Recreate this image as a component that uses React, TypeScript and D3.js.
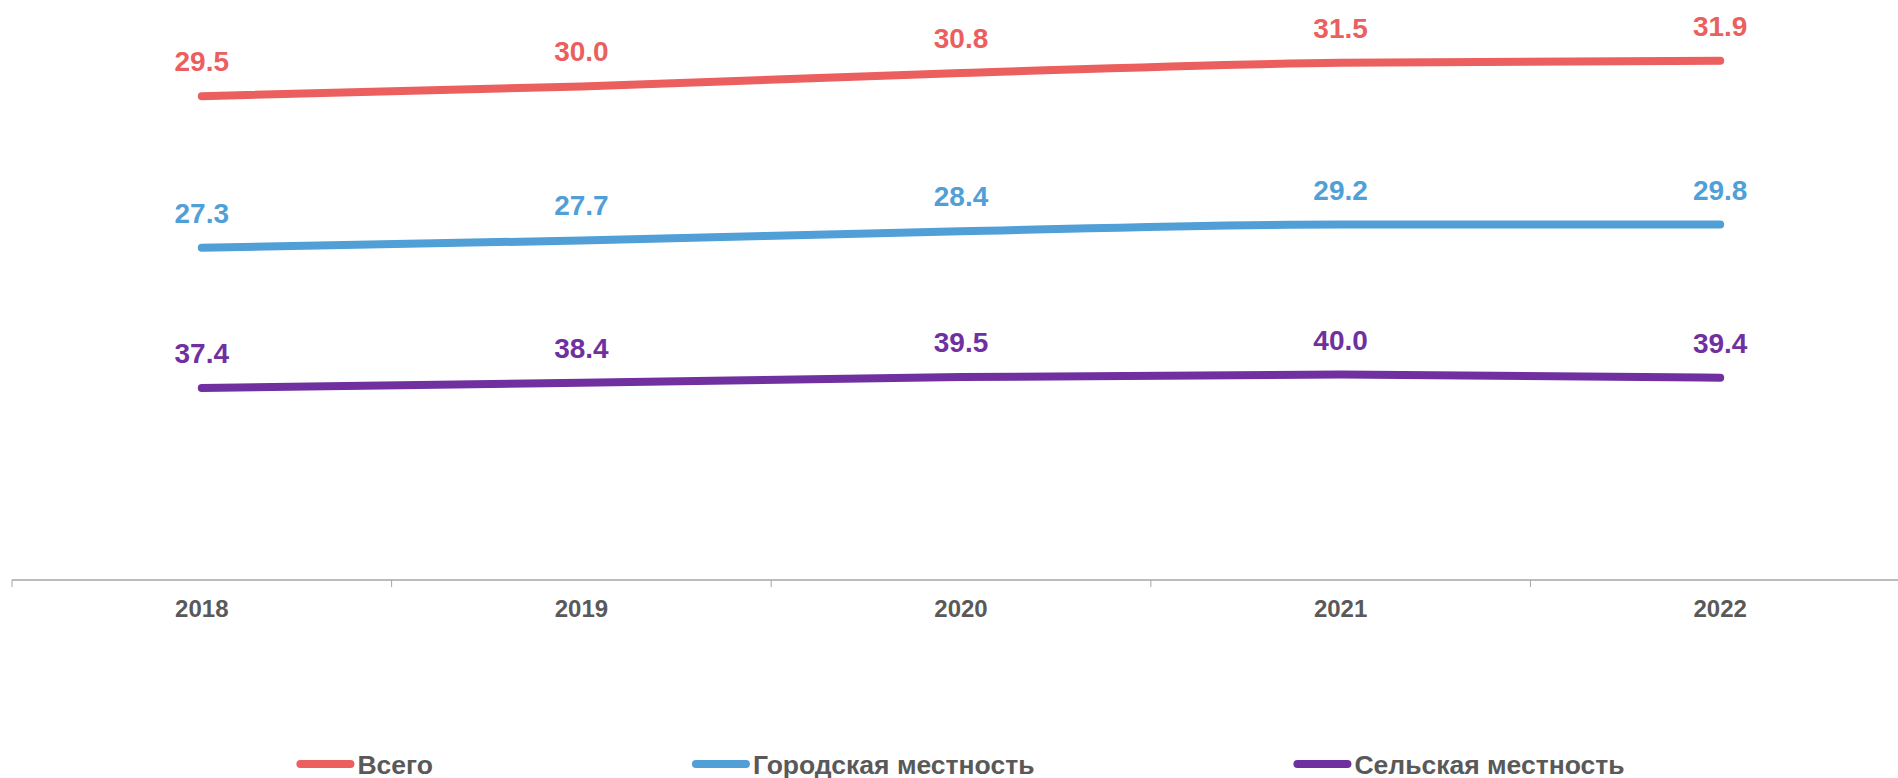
import React, { useEffect, useRef } from "react";
import * as d3 from "d3";

const years = ["2018", "2019", "2020", "2021", "2022"];
const totalValues = [29.5, 30.0, 30.8, 31.5, 31.9];
const urbanValues = [27.3, 27.7, 28.4, 29.2, 29.8];
const ruralValues = [37.4, 38.4, 39.5, 40.0, 39.4];
const seriesNames = ["Всего", "Городская местность", "Сельская местность"];
const seriesColors = ["#EB5F5F", "#509FD7", "#7030A0"];

const W = 1898;
const H = 778;
const FONT = "'Liberation Sans', Arial, sans-serif";

export default function App() {
  const ref = useRef<SVGSVGElement | null>(null);

  useEffect(() => {
    const svg = d3.select(ref.current);
    svg.selectAll("*").remove();

    const x = d3.scaleBand<string>().domain(years).range([12, 1910]);
    const y = d3.scaleLinear().domain([0, 110]).range([580, 15]);

    // stacked: rural bottom, urban middle, total top
    const order = [ruralValues, urbanValues, totalValues];
    const orderColors = [seriesColors[2], seriesColors[1], seriesColors[0]];
    const cum = years.map(() => 0);
    const stacked = order.map((vals) =>
      vals.map((v, i) => {
        cum[i] += v;
        return { year: years[i], value: v, top: cum[i] };
      })
    );

    // axis
    const g = svg.append("g");
    g.append("line")
      .attr("x1", 12)
      .attr("x2", W)
      .attr("y1", 580)
      .attr("y2", 580)
      .attr("stroke", "#A6A6A6")
      .attr("stroke-width", 1.5);
    const bounds = years.map((yr) => x(yr) as number).concat([x.range()[1]]);
    g.selectAll("line.tick")
      .data(bounds)
      .enter()
      .append("line")
      .attr("class", "tick")
      .attr("x1", (d) => d)
      .attr("x2", (d) => d)
      .attr("y1", 580)
      .attr("y2", 587)
      .attr("stroke", "#A6A6A6")
      .attr("stroke-width", 1);
    g.selectAll("text.yr")
      .data(years)
      .enter()
      .append("text")
      .attr("class", "yr")
      .attr("x", (d) => (x(d) as number) + x.bandwidth() / 2)
      .attr("y", 617)
      .attr("text-anchor", "middle")
      .attr("font-family", FONT)
      .attr("font-weight", "bold")
      .attr("font-size", 24)
      .attr("fill", "#595959")
      .text((d) => d);

    const line = d3
      .line<{ year: string; top: number }>()
      .x((d) => (x(d.year) as number) + x.bandwidth() / 2)
      .y((d) => y(d.top))
      .curve(d3.curveMonotoneX);

    stacked.forEach((s, k) => {
      svg
        .append("path")
        .attr("d", line(s) as string)
        .attr("fill", "none")
        .attr("stroke", orderColors[k])
        .attr("stroke-width", 8)
        .attr("stroke-linecap", "round")
        .attr("stroke-linejoin", "round");
      svg
        .selectAll(null)
        .data(s)
        .enter()
        .append("text")
        .attr("x", (d) => (x(d.year) as number) + x.bandwidth() / 2)
        .attr("y", (d) => y(d.top) - 25)
        .attr("text-anchor", "middle")
        .attr("font-family", FONT)
        .attr("font-weight", "bold")
        .attr("font-size", 28)
        .attr("fill", orderColors[k])
        .text((d) => d.value.toFixed(1));
    });

    // legend
    const lg = svg.append("g");
    const symW = 58;
    const symGap = 3;
    const itemGap = 259;
    const items = seriesNames.map((name, i) => {
      const gi = lg.append("g");
      gi.append("line")
        .attr("x1", 4)
        .attr("x2", symW - 4)
        .attr("y1", 764)
        .attr("y2", 764)
        .attr("stroke", seriesColors[i])
        .attr("stroke-width", 8)
        .attr("stroke-linecap", "round");
      const t = gi
        .append("text")
        .attr("x", symW + symGap)
        .attr("y", 773.5)
        .attr("font-family", FONT)
        .attr("font-weight", "bold")
        .attr("font-size", 26.5)
        .attr("fill", "#595959")
        .text(name);
      const tw = (t.node() as SVGTextElement).getComputedTextLength();
      return { gi, w: symW + symGap + tw };
    });
    const total = items.reduce((a, b) => a + b.w, 0) + itemGap * (items.length - 1);
    let cx = 960.5 - total / 2;
    items.forEach((it) => {
      it.gi.attr("transform", `translate(${cx},0)`);
      cx += it.w + itemGap;
    });
  }, []);

  return (
    <svg
      ref={ref}
      width={W}
      height={H}
      style={{ position: "absolute", left: 0, top: 0, background: "#fff" }}
    />
  );
}
